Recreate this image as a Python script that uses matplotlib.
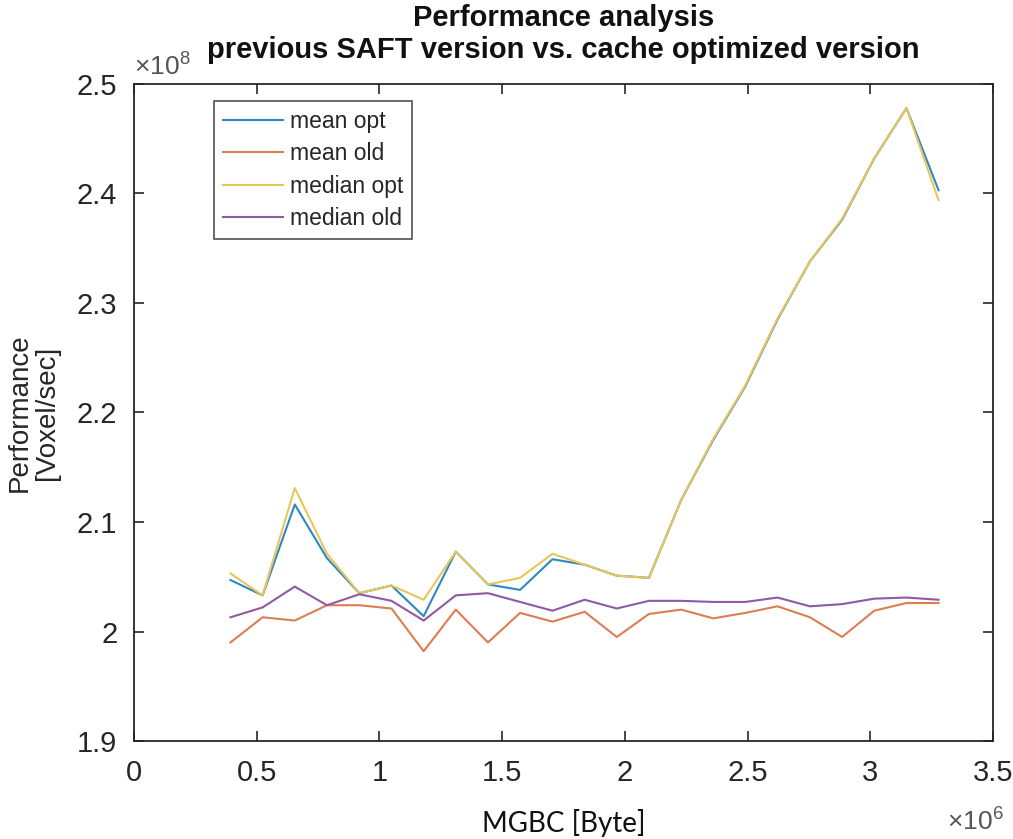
import numpy as np
import matplotlib
matplotlib.use("Agg")
import matplotlib.pyplot as plt
from matplotlib.ticker import FuncFormatter, MultipleLocator

# MGBC sizes [Byte]
mgbc = [0.393e6, 0.524e6, 0.655e6, 0.786e6, 0.918e6, 1.049e6, 1.180e6, 1.311e6,
        1.442e6, 1.573e6, 1.705e6, 1.836e6, 1.967e6, 2.098e6, 2.229e6, 2.360e6,
        2.491e6, 2.622e6, 2.754e6, 2.885e6, 3.016e6, 3.147e6, 3.278e6]

# performance in 1e8 voxel/sec
mean_opt = [2.047, 2.033, 2.116, 2.067, 2.035, 2.042, 2.014, 2.073, 2.043, 2.038,
            2.066, 2.061, 2.051, 2.049, 2.120, 2.175, 2.224, 2.285, 2.338, 2.376,
            2.432, 2.478, 2.403]
mean_old = [1.990, 2.013, 2.010, 2.024, 2.024, 2.021, 1.982, 2.020, 1.990, 2.017,
            2.009, 2.018, 1.995, 2.016, 2.020, 2.012, 2.017, 2.023, 2.013, 1.995,
            2.019, 2.026, 2.026]
median_opt = [2.053, 2.033, 2.131, 2.071, 2.035, 2.042, 2.029, 2.073, 2.043, 2.049,
              2.071, 2.061, 2.051, 2.049, 2.120, 2.176, 2.225, 2.286, 2.338, 2.377,
              2.432, 2.478, 2.394]
median_old = [2.013, 2.022, 2.041, 2.024, 2.034, 2.028, 2.010, 2.033, 2.035, 2.027,
              2.019, 2.029, 2.021, 2.028, 2.028, 2.027, 2.027, 2.031, 2.023, 2.025,
              2.030, 2.031, 2.029]

series = {
    'mean opt': mean_opt,
    'mean old': mean_old,
    'median opt': median_opt,
    'median old': median_old,
}
colors = ['#2f88c0', '#dc7d52', '#e8c65c', '#8f5aa3']

plt.rcParams.update({
    "font.family": ["Liberation Sans", "DejaVu Sans"],
    "mathtext.fontset": "custom",
    "mathtext.rm": "Liberation Sans",
    "axes.linewidth": 1.3,
    "axes.edgecolor": "#262626",
})

fig = plt.figure(figsize=(10.13, 8.39), dpi=100)
ax = fig.add_axes([0.1323, 0.1168, 0.848, 0.7831])

x = np.array(mgbc)
for (name, vals), c in zip(series.items(), colors):
    ax.plot(x, np.array(vals) * 1e8, color=c, lw=1.5, label=name)

ax.set_xlim(0, 3.5e6)
ax.set_ylim(1.9e8, 2.5e8)
ax.xaxis.set_major_locator(MultipleLocator(0.5e6))
ax.yaxis.set_major_locator(MultipleLocator(0.1e8))
ax.xaxis.set_major_formatter(FuncFormatter(lambda v, p: f"{v / 1e6:g}"))
ax.yaxis.set_major_formatter(FuncFormatter(lambda v, p: f"{v / 1e8:g}"))

ax.tick_params(direction='in', length=7, width=1.2, top=True, right=True,
               labelsize=21, labelcolor='#262626', color='#262626')
ax.tick_params(axis='x', pad=13)
ax.tick_params(axis='y', pad=12)

# exponent labels, MATLAB style
ax.text(0.0, 1.006, r'$\times10^{8}$', transform=ax.transAxes, fontsize=19,
        color='#555555', ha='left', va='bottom')
ax.text(1.012, -0.1, r'$\times10^{6}$', transform=ax.transAxes, fontsize=19,
        color='#555555', ha='right', va='top')

ax.set_title('Performance analysis\nprevious SAFT version vs. cache optimized version',
             fontsize=21, fontweight='bold', color='#111111', pad=19, linespacing=1.15)
ax.set_ylabel('Performance\n[Voxel/sec]', fontsize=20, color='#262626', labelpad=12,
              linespacing=1.05)
ax.set_xlabel('MGBC [Byte]', fontsize=20, family=['Lato', 'DejaVu Sans'],
              color='#111111', labelpad=16)

leg = ax.legend(loc='upper left', bbox_to_anchor=(0.093, 0.974), fontsize=16.5,
                frameon=True, fancybox=False, edgecolor='#262626',
                handlelength=2.6, handletextpad=0.3, borderpad=0.4,
                labelspacing=0.4, borderaxespad=0)
leg.get_frame().set_linewidth(1.2)
for t in leg.get_texts():
    t.set_color('#262626')

fig.savefig('out.png', dpi=100)
